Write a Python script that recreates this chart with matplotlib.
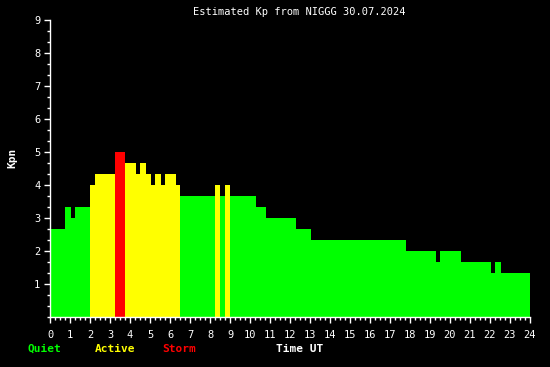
import numpy as np
import matplotlib
matplotlib.use("Agg")
import matplotlib.pyplot as plt

# Kp steps: segment edges (hours UT) and Kp value of each segment
edges = [0, 0.75, 1.05, 1.25, 2.0, 2.25, 3.25, 3.75, 4.3, 4.5, 4.8, 5.05, 5.25, 5.55,
         5.75, 6.3, 6.5, 8.25, 8.5, 8.75, 9.0, 10.3, 10.8, 12.3, 13.05, 17.8, 19.3,
         19.5, 20.55, 22.05, 22.25, 22.55, 24.05]
kp = [2.67, 3.33, 3.0, 3.33, 4.0, 4.33, 5.0, 4.67, 4.33, 4.67, 4.33, 4.0, 4.33, 4.0,
      4.33, 4.0, 3.67, 4.0, 3.67, 4.0, 3.67, 3.33, 3.0, 2.67, 2.33, 2.0, 1.67,
      2.0, 1.67, 1.33, 1.67, 1.33]

hour_labels = [str(h) for h in range(25)]
kp_labels = [str(k) for k in range(1, 10)]

GREEN = "#00ff00"
YELLOW = "#ffff00"
RED = "#ff0000"


def kp_color(v):
    if v >= 5:
        return RED
    elif v >= 4:
        return YELLOW
    return GREEN


fig = plt.figure(figsize=(5.5, 3.67), dpi=100, facecolor="black")
ax = fig.add_axes([50 / 550, 50 / 367, 480 / 550, 297 / 367], facecolor="black")

left = np.array(edges[:-1])
width = np.diff(edges)
ax.bar(left, kp, width=width, align="edge", color=[kp_color(v) for v in kp],
       linewidth=0, antialiased=False)

ax.set_xlim(0, 24)
ax.set_ylim(0, 9)

font = "DejaVu Sans Mono"

ax.set_xticks(range(25))
ax.set_xticklabels(hour_labels, fontsize=7.5, family=font, color="white")
ax.set_xticks(np.arange(0, 24.01, 0.25), minor=True)
ax.set_yticks(range(1, 10))
ax.set_yticklabels(kp_labels, fontsize=7.5, family=font, color="white")
ax.set_yticks(np.arange(0, 9.01, 1 / 3), minor=True)

ax.tick_params(which="major", length=4, width=1, color="white", direction="out")
ax.tick_params(which="minor", length=2.3, width=1, color="white", direction="out")
ax.tick_params(axis="x", which="major", pad=5)
ax.tick_params(axis="y", which="major", pad=3)

for s in ["top", "right"]:
    ax.spines[s].set_visible(False)
for s in ["left", "bottom"]:
    ax.spines[s].set_color("white")
    ax.spines[s].set_linewidth(1)

fig.text(299 / 550, 1 - 12 / 367, "Estimated Kp from NIGGG 30.07.2024", ha="center", va="center",
         fontsize=7.5, family=font, color="white")
fig.text(12 / 550, 1 - 158 / 367, "Kpn", rotation=90, ha="center", va="center",
         fontsize=8, family=font, weight="bold", color="white")

y_leg = 1 - 349 / 367
fig.text(28 / 550, y_leg, "Quiet", ha="left", va="center", fontsize=8, family=font,
         weight="bold", color=GREEN)
fig.text(95 / 550, y_leg, "Active", ha="left", va="center", fontsize=8, family=font,
         weight="bold", color=YELLOW)
fig.text(162 / 550, y_leg, "Storm", ha="left", va="center", fontsize=8, family=font,
         weight="bold", color=RED)
fig.text(276 / 550, y_leg, "Time UT", ha="left", va="center", fontsize=8, family=font,
         weight="bold", color="white")

fig.savefig("out.png", dpi=100, facecolor="black")
